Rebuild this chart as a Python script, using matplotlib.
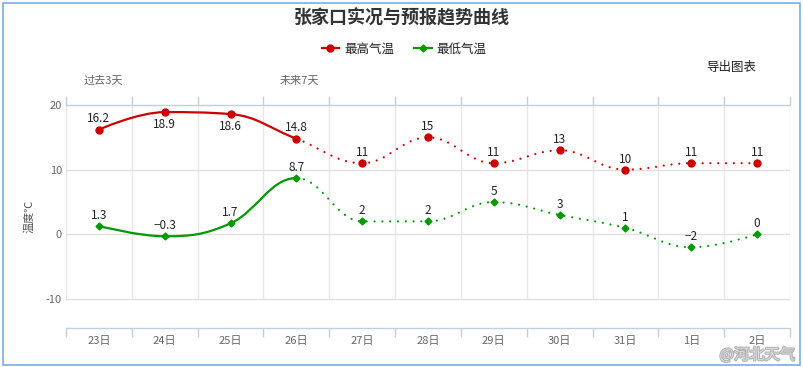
import matplotlib
matplotlib.use("Agg")
import matplotlib.pyplot as plt
from matplotlib.path import Path
from matplotlib.patches import PathPatch, Rectangle
from matplotlib.lines import Line2D
import matplotlib.patheffects as pe
import numpy as np

plt.rcParams['font.family'] = ['Noto Sans CJK SC', 'DejaVu Sans']

days = ["23日", "24日", "25日", "26日", "27日", "28日", "29日", "30日", "31日", "1日", "2日"]
high = [16.2, 18.9, 18.6, 14.8, 11, 15, 11, 13, 10, 11, 11]
low = [1.3, -0.3, 1.7, 8.7, 2, 2, 5, 3, 1, -2, 0]
high_labels = ["16.2", "18.9", "18.6", "14.8", "11", "15", "11", "13", "10", "11", "11"]
low_labels = ["1.3", "−0.3", "1.7", "8.7", "2", "2", "5", "3", "1", "−2", "0"]
label_below = [False, True, True, False, False, False, False, False, False, False, False]
n_past = 3  # observed days, the rest is forecast

RED = "#cc0000"
GREEN = "#009900"
W, H = 804, 367


def spline_controls(xs, ys, smoothing=1.5):
    # highcharts-style spline control points
    n = len(xs)
    left = [(xs[i], ys[i]) for i in range(n)]
    right = [(xs[i], ys[i]) for i in range(n)]
    denom = smoothing + 1
    for i in range(1, n - 1):
        px, py = xs[i], ys[i]
        lx, ly = xs[i - 1], ys[i - 1]
        nx, ny = xs[i + 1], ys[i + 1]
        lcx = (smoothing * px + lx) / denom
        lcy = (smoothing * py + ly) / denom
        rcx = (smoothing * px + nx) / denom
        rcy = (smoothing * py + ny) / denom
        corr = (rcy - lcy) * (rcx - px) / (rcx - lcx) + py - rcy
        lcy += corr
        rcy += corr
        if lcy > ly and lcy > py:
            lcy = max(ly, py); rcy = 2 * py - lcy
        elif lcy < ly and lcy < py:
            lcy = min(ly, py); rcy = 2 * py - lcy
        if rcy > ny and rcy > py:
            rcy = max(ny, py); lcy = 2 * py - rcy
        elif rcy < ny and rcy < py:
            rcy = min(ny, py); lcy = 2 * py - rcy
        left[i] = (lcx, lcy)
        right[i] = (rcx, rcy)
    return left, right


def spline_path(xs, ys, start, end):
    left, right = spline_controls(xs, ys)
    verts = [(xs[start], ys[start])]
    codes = [Path.MOVETO]
    for i in range(start + 1, end + 1):
        verts += [right[i - 1], left[i], (xs[i], ys[i])]
        codes += [Path.CURVE4] * 3
    return Path(verts, codes)


fig = plt.figure(figsize=(W / 100, H / 100), dpi=100)
ax = fig.add_axes([66 / W, 1 - 328 / H, 724 / W, 223 / H])
x = np.arange(len(days))
ax.set_xlim(-0.5, len(days) - 0.5)
ax.set_ylim(20 - 223 / 6.467, 20)

# grid
for b in np.arange(-0.5, len(days), 1.0):
    ax.plot([b, b], [-10, 20], color="#e8e8e8", lw=1, zorder=0)
for yv in [10, 0, -10]:
    ax.axhline(yv, color="#e0e0e0", lw=1, zorder=0)

for s in ["left", "right"]:
    ax.spines[s].set_visible(False)
for s in ["top", "bottom"]:
    ax.spines[s].set_color("#c0d0e0")
    ax.spines[s].set_linewidth(1)

ax.set_xticks(np.arange(-0.5, len(days), 1.0))
ax.set_xticklabels([])
ax.set_xticks(x, minor=True)
ax.set_xticklabels(days, minor=True)
ax.tick_params(axis="x", which="major", top=True, bottom=True, direction="out",
               length=6.5, color="#c0d0e0", width=1)
ax.tick_params(axis="x", which="minor", length=0, pad=6, labelsize=8, labelcolor="#666666")
ax.set_yticks([20, 10, 0, -10])
ax.set_yticklabels(["20", "10", "0", "-10"])
ax.tick_params(axis="y", length=0, pad=3, labelsize=8, labelcolor="#666666")
ax.set_ylabel("温度℃", fontsize=8, color="#555555", labelpad=8)

# lines
for ys, col in [(high, RED), (low, GREEN)]:
    solid = spline_path(x, ys, 0, n_past)
    dotted = spline_path(x, ys, n_past, len(days) - 1)
    ax.add_patch(PathPatch(solid, fill=False, edgecolor=col, lw=1.6, zorder=3))
    ax.add_patch(PathPatch(dotted, fill=False, edgecolor=col, lw=1.6, zorder=3,
                           linestyle=(0, (0.01, 3.5)), capstyle="round"))

ax.plot(x, high, "o", color=RED, markersize=5, zorder=4)
ax.plot(x, low, "D", color=GREEN, markersize=3.5, zorder=4)

for i in range(len(days)):
    if label_below[i]:
        ax.annotate(high_labels[i], (x[i], high[i]), xytext=(0, -4), textcoords="offset points",
                    ha="center", va="top", fontsize=8.5, color="#222222")
    else:
        ax.annotate(high_labels[i], (x[i], high[i]), xytext=(0, 3), textcoords="offset points",
                    ha="center", va="bottom", fontsize=8.5, color="#222222")
    ax.annotate(low_labels[i], (x[i], low[i]), xytext=(0, 3), textcoords="offset points",
                ha="center", va="bottom", fontsize=8.5, color="#222222")

# top labels
ax.text(0.06, 1 + 24 / 223, "过去3天", transform=ax.get_xaxis_transform(), ha="center",
        va="center", fontsize=8, color="#666666")
ax.text(3.05, 1 + 24 / 223, "未来7天", transform=ax.get_xaxis_transform(), ha="center",
        va="center", fontsize=8, color="#666666")

fig.text(402 / W, 1 - 18 / H, "张家口实况与预报趋势曲线", ha="center", va="center",
         fontsize=13, fontweight="bold", color="#333333")
fig.text(731 / W, 1 - 68 / H, "导出图表", ha="center", va="center", fontsize=9, color="#222222")

handles = [Line2D([], [], color=RED, lw=1.6, marker="o", markersize=5),
           Line2D([], [], color=GREEN, lw=1.6, marker="D", markersize=3.5)]
fig.legend(handles, ["最高气温", "最低气温"], loc="center", bbox_to_anchor=(404 / W, 1 - 49 / H),
           ncol=2, frameon=False, fontsize=9, handlelength=1.4, handletextpad=0.4,
           columnspacing=1.6, labelcolor="#222222")

# watermark
fig.text(795 / W, 1 - 355 / H, "@河北天气", ha="right", va="center", fontsize=11,
         color="#e0e0e0", alpha=0.9,
         path_effects=[pe.withStroke(linewidth=1.5, foreground="#aaaaaa")])

fig.add_artist(Rectangle((3 / W, 2 / H), 797 / W, 362 / H, transform=fig.transFigure,
                         fill=False, edgecolor="#7aaee0", lw=1.2))

fig.savefig("out.png", dpi=100)
